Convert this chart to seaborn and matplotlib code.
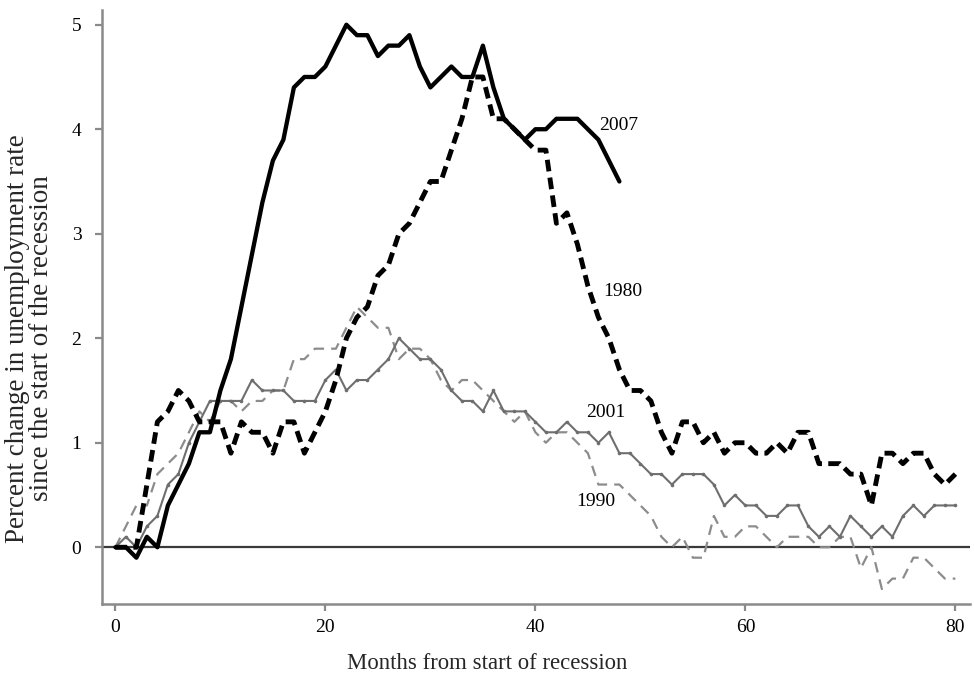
import numpy as np
import matplotlib
matplotlib.use("Agg")
import matplotlib.pyplot as plt
import seaborn as sns

# months since the start of each recession
months_2007 = list(range(0, 49))
months_long = list(range(0, 81))

chg_2007 = [0, 0, -0.1, 0.1, 0, 0.4, 0.6, 0.8, 1.1, 1.1,
            1.5, 1.8, 2.3, 2.8, 3.3, 3.7, 3.9, 4.4, 4.5, 4.5,
            4.6, 4.8, 5.0, 4.9, 4.9, 4.7, 4.8, 4.8, 4.9, 4.6,
            4.4, 4.5, 4.6, 4.5, 4.5, 4.8, 4.4, 4.1, 4.0, 3.9,
            4.0, 4.0, 4.1, 4.1, 4.1, 4.0, 3.9, 3.7, 3.5]

chg_1980 = [0, 0, 0, 0.6, 1.2, 1.3, 1.5, 1.4, 1.2, 1.2,
            1.2, 0.9, 1.2, 1.1, 1.1, 0.9, 1.2, 1.2, 0.9, 1.1,
            1.3, 1.6, 2.0, 2.2, 2.3, 2.6, 2.7, 3.0, 3.1, 3.3,
            3.5, 3.5, 3.8, 4.1, 4.5, 4.5, 4.1, 4.1, 4.0, 3.9,
            3.8, 3.8, 3.1, 3.2, 2.9, 2.5, 2.2, 2.0, 1.7, 1.5,
            1.5, 1.4, 1.1, 0.9, 1.2, 1.2, 1.0, 1.1, 0.9, 1.0,
            1.0, 0.9, 0.9, 1.0, 0.9, 1.1, 1.1, 0.8, 0.8, 0.8,
            0.7, 0.7, 0.4, 0.9, 0.9, 0.8, 0.9, 0.9, 0.7, 0.6,
            0.7]

chg_1990 = [0, 0.2, 0.4, 0.4, 0.7, 0.8, 0.9, 1.1, 1.3, 1.2,
            1.4, 1.4, 1.3, 1.4, 1.4, 1.5, 1.5, 1.8, 1.8, 1.9,
            1.9, 1.9, 2.1, 2.3, 2.2, 2.1, 2.1, 1.8, 1.9, 1.9,
            1.8, 1.6, 1.5, 1.6, 1.6, 1.5, 1.4, 1.3, 1.2, 1.3,
            1.1, 1.0, 1.1, 1.1, 1.0, 0.9, 0.6, 0.6, 0.6, 0.5,
            0.4, 0.3, 0.1, 0.0, 0.1, -0.1, -0.1, 0.3, 0.1, 0.1,
            0.2, 0.2, 0.1, 0.0, 0.1, 0.1, 0.1, 0.0, 0.0, 0.1,
            0.1, -0.2, 0.0, -0.4, -0.3, -0.3, -0.1, -0.1, -0.2, -0.3,
            -0.3]

chg_2001 = [0, 0.1, 0.0, 0.2, 0.3, 0.6, 0.7, 1.0, 1.2, 1.4,
            1.4, 1.4, 1.4, 1.6, 1.5, 1.5, 1.5, 1.4, 1.4, 1.4,
            1.6, 1.7, 1.5, 1.6, 1.6, 1.7, 1.8, 2.0, 1.9, 1.8,
            1.8, 1.7, 1.5, 1.4, 1.4, 1.3, 1.5, 1.3, 1.3, 1.3,
            1.2, 1.1, 1.1, 1.2, 1.1, 1.1, 1.0, 1.1, 0.9, 0.9,
            0.8, 0.7, 0.7, 0.6, 0.7, 0.7, 0.7, 0.6, 0.4, 0.5,
            0.4, 0.4, 0.3, 0.3, 0.4, 0.4, 0.2, 0.1, 0.2, 0.1,
            0.3, 0.2, 0.1, 0.2, 0.1, 0.3, 0.4, 0.3, 0.4, 0.4,
            0.4]

# (label, month, value) for the inline series labels
labels = [("2007", 46.1, 4.04), ("1980", 46.5, 2.45),
          ("2001", 44.8, 1.29), ("1990", 43.9, 0.44)]

x_ticks = [0, 20, 40, 60, 80]
y_ticks = [0, 1, 2, 3, 4, 5]

sns.set_theme(style="ticks")
plt.rcParams['font.family'] = ['Liberation Serif', 'DejaVu Serif']

fig = plt.figure(figsize=(9.74, 6.73), dpi=100)
ax = fig.add_axes([0.105, 0.103, 0.891, 0.882])

ax.axhline(0, color='#3a3a3a', linewidth=1.6, zorder=1)

sns.lineplot(x=months_long, y=chg_1990, ax=ax, color='#8c8c8c', linewidth=1.6,
             linestyle=(0, (4.8, 3.2)), zorder=2)
sns.lineplot(x=months_long, y=chg_2001, ax=ax, color='#6e6e6e', linewidth=1.5,
             marker='o', markersize=2.6, markeredgewidth=0, zorder=3)
sns.lineplot(x=months_long, y=chg_1980, ax=ax, color='black', linewidth=3.5,
             linestyle=(0, (2.4, 1.3)), zorder=4)
sns.lineplot(x=months_2007, y=chg_2007, ax=ax, color='black', linewidth=3.1,
             zorder=5)

for text, mx, val in labels:
    ax.text(mx, val, text, fontsize=14, va='center', ha='left', color='black')

ax.set_xlim(-1.25, 81.4)
ax.set_ylim(-0.54, 5.14)
ax.set_xticks(x_ticks)
ax.set_yticks(y_ticks)

sns.despine(ax=ax)
for side in ['left', 'bottom']:
    ax.spines[side].set_color('#8a8a8a')
    ax.spines[side].set_linewidth(1.8)
ax.tick_params(axis='x', colors='#8a8a8a', labelcolor='black',
               length=5, width=1.6, labelsize=14, pad=6)
ax.tick_params(axis='y', colors='#8a8a8a', labelcolor='black',
               length=5, width=1.6, labelsize=14, pad=10)

ax.set_xlabel("Months from start of recession", fontsize=16.4, labelpad=12)
ax.xaxis.label.set_x(0.4435)
ax.set_ylabel("Percent change in unemployment rate\nsince the start of the recession",
              fontsize=19.5, labelpad=13, linespacing=0.92)
ax.yaxis.label.set_y(0.447)

fig.savefig("out.png", dpi=100)
